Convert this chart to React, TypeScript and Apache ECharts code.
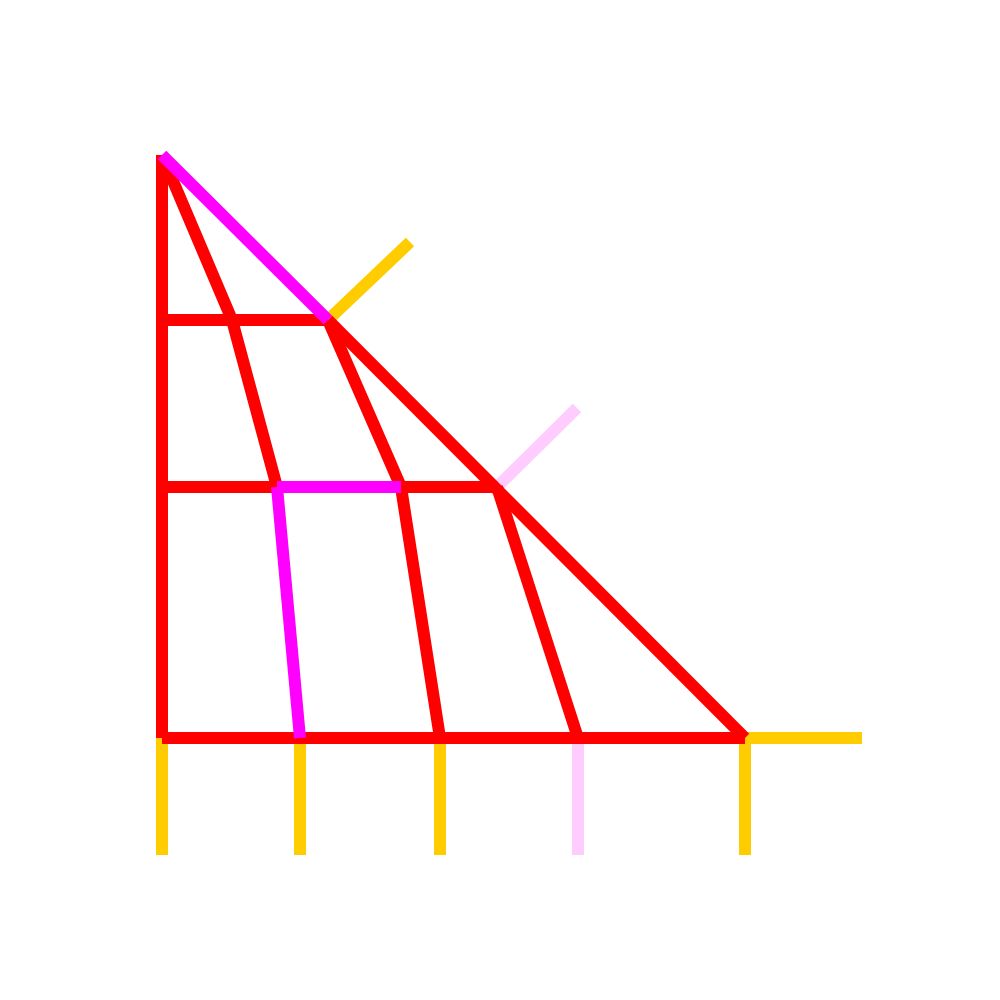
import React, { useEffect, useRef } from 'react';
import * as echarts from 'echarts';

// polylines, [x, y] with origin at the bottom-left corner of the triangle
const redLines: number[][][] = [
  [[0, 0], [0, 583]],
  [[0, 0], [583, 0]],
  [[166, 418], [583, 0]],
  [[0, 418], [166, 418]],
  [[0, 251], [115, 251]],
  [[239, 251], [335, 251]],
  [[0, 583], [70, 418], [115, 251]],
  [[166, 418], [239, 251], [278, 0]],
  [[335, 251], [416, 0]],
];
const magentaLines: number[][][] = [
  [[0, 583], [166, 418]],
  [[115, 251], [239, 251]],
  [[115, 251], [138, 0]],
];
const yellowLines: number[][][] = [
  [[166, 418], [248, 496]],
  [[583, 0], [700, 0]],
  [[0, 0], [0, -117]],
  [[138, 0], [138, -117]],
  [[278, 0], [278, -117]],
  [[583, 0], [583, -117]],
];
const pinkLines: number[][][] = [
  [[335, 251], [415, 330]],
  [[416, 0], [416, -117]],
];

const App = () => {
  const chartRef = useRef<HTMLDivElement>(null);

  useEffect(() => {
    if (!chartRef.current) return;
    const chart = echarts.init(chartRef.current, null, { renderer: 'svg' });
    const mk = (lines: number[][][], color: string, z: number) =>
      lines.map((data) => ({
        type: 'line',
        data,
        symbol: 'none',
        z,
        lineStyle: { color, width: 12, cap: 'butt', join: 'miter' },
      }));
    chart.setOption({
      animation: false,
      grid: { left: 0, right: 0, top: 0, bottom: 0 },
      xAxis: { type: 'value', min: -162, max: 838, show: false },
      yAxis: { type: 'value', min: -262, max: 738, show: false },
      series: [
        ...mk(yellowLines, '#ffcc00', 1),
        ...mk(pinkLines, '#ffccff', 1),
        ...mk(redLines, '#ff0000', 2),
        ...mk(magentaLines, '#ff00ff', 3),
      ],
    });
    return () => chart.dispose();
  }, []);

  return (
    <div
      ref={chartRef}
      style={{ position: 'fixed', left: 0, top: 0, width: 1000, height: 1000, background: '#fff' }}
    />
  );
};

export default App;
